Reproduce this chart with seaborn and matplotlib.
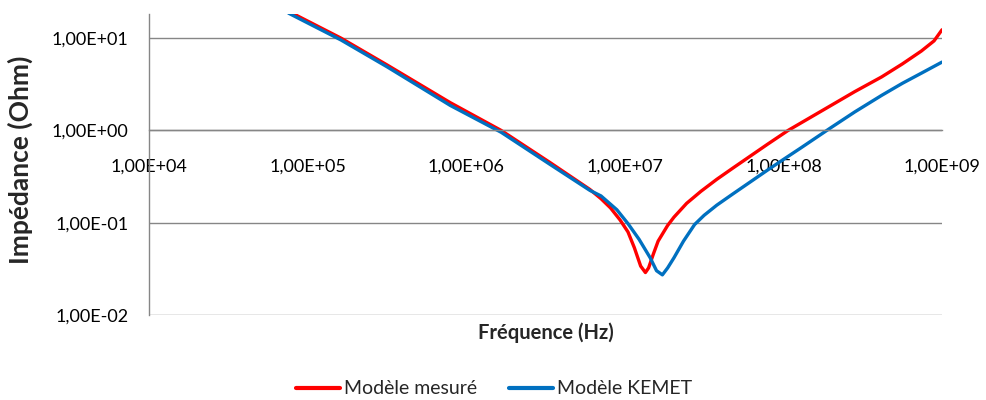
import matplotlib
matplotlib.use("Agg")
import matplotlib.pyplot as plt
import matplotlib.ticker as mticker
import numpy as np
import pandas as pd
import seaborn as sns

# Impedance sweep, log10 of frequency (Hz) and log10 of impedance (Ohm)
mesure_logf = [4.88, 5.21, 5.50, 5.90, 6.22, 6.53, 6.78, 6.85, 6.91, 6.97, 7.02,
               7.06, 7.10, 7.13, 7.15, 7.18, 7.21, 7.27, 7.31, 7.39, 7.48, 7.58,
               7.68, 7.79, 7.90, 8.03, 8.17, 8.30, 8.45, 8.62, 8.75, 8.87, 8.95, 9.00]
mesure_logz = [1.29, 1.00, 0.71, 0.30, 0.00, -0.35, -0.64, -0.74, -0.84, -0.97, -1.10,
               -1.27, -1.47, -1.54, -1.49, -1.34, -1.20, -1.03, -0.94, -0.79, -0.66, -0.53,
               -0.41, -0.28, -0.15, 0.00, 0.14, 0.27, 0.42, 0.58, 0.72, 0.86, 0.97, 1.09]

kemet_logf = [4.88, 5.21, 5.50, 5.90, 6.22, 6.53, 6.78, 6.85, 6.95, 7.02, 7.09,
              7.16, 7.20, 7.237, 7.27, 7.31, 7.37, 7.44, 7.50, 7.58, 7.68, 7.79,
              7.90, 8.00, 8.11, 8.30, 8.45, 8.62, 8.75, 8.87, 9.00]
kemet_logz = [1.27, 0.98, 0.69, 0.27, -0.02, -0.37, -0.65, -0.71, -0.86, -1.01, -1.18,
              -1.38, -1.52, -1.565, -1.49, -1.38, -1.20, -1.02, -0.92, -0.81, -0.69, -0.56,
              -0.43, -0.315, -0.19, 0.03, 0.20, 0.38, 0.51, 0.62, 0.74]

series_names = ["Modèle mesuré", "Modèle KEMET"]
series_colors = ["#FF0000", "#0070C0"]

df = pd.concat([
    pd.DataFrame({"f": np.power(10.0, mesure_logf), "z": np.power(10.0, mesure_logz),
                  "serie": series_names[0]}),
    pd.DataFrame({"f": np.power(10.0, kemet_logf), "z": np.power(10.0, kemet_logz),
                  "serie": series_names[1]}),
], ignore_index=True)

sns.set_theme(style="white")
plt.rcParams["font.family"] = ["Lato", "DejaVu Sans"]

fig = plt.figure(figsize=(9.86, 4.0), dpi=100)
ax = fig.add_axes([149 / 986, 85 / 400, 793 / 986, 301 / 400])

sns.lineplot(data=df, x="f", y="z", hue="serie", palette=series_colors,
             hue_order=series_names, estimator=None, sort=False,
             linewidth=2.4, ax=ax, legend=False)

ax.set_xscale("log")
ax.set_yscale("log")
ax.set_xlim(1e4, 1e9)
ax.set_ylim(1e-2, 10 ** 1.261)

grey = "#868686"


def excel_sci(v, pos=None):
    if v <= 0:
        return ""
    e = int(np.round(np.log10(v)))
    m = v / 10 ** e
    return f"{m:.2f}".replace(".", ",") + f"E{e:+03d}"


ax.xaxis.set_major_locator(mticker.LogLocator(base=10, numticks=20))
ax.xaxis.set_minor_locator(mticker.NullLocator())
ax.yaxis.set_major_locator(mticker.LogLocator(base=10, numticks=20))
ax.yaxis.set_minor_locator(mticker.NullLocator())
ax.xaxis.set_major_formatter(mticker.FuncFormatter(excel_sci))
ax.yaxis.set_major_formatter(mticker.FuncFormatter(excel_sci))

# horizontal gridlines only
ax.grid(axis="y", color=grey, linewidth=1.0)
ax.grid(axis="x", visible=False)

# category axis crosses the value axis at 1
ax.spines["bottom"].set_position(("data", 1.0))
ax.spines["top"].set_visible(False)
ax.spines["right"].set_visible(False)
for s in ("bottom", "left"):
    ax.spines[s].set_color(grey)
    ax.spines[s].set_linewidth(1.0)

ax.tick_params(axis="x", direction="out", length=5.0, width=1.0, color=grey,
               pad=15, labelsize=13, labelcolor="#000000")
ax.tick_params(axis="y", direction="out", length=4.5, width=1.0, color=grey,
               pad=10.5, labelsize=13, labelcolor="#000000")

ax.set_xlabel("")
ax.set_ylabel("")
fig.text(546 / 986, 1 - 333 / 400, "Fréquence (Hz)", ha="center", va="center",
         fontsize=14.5, fontweight="bold")
fig.text(20 / 986, 1 - 160 / 400, "Impédance (Ohm)", ha="center", va="center",
         rotation=90, fontsize=19, fontweight="bold")

handles = [plt.Line2D([], [], color=c, linewidth=3.0) for c in series_colors]
fig.legend(handles, series_names, loc="center", ncol=2,
           bbox_to_anchor=(494 / 986, 1 - 389 / 400), frameon=False,
           fontsize=14, handlelength=2.3, handletextpad=0.2,
           columnspacing=1.6, borderaxespad=0, borderpad=0)

fig.savefig("out.png", dpi=100)
